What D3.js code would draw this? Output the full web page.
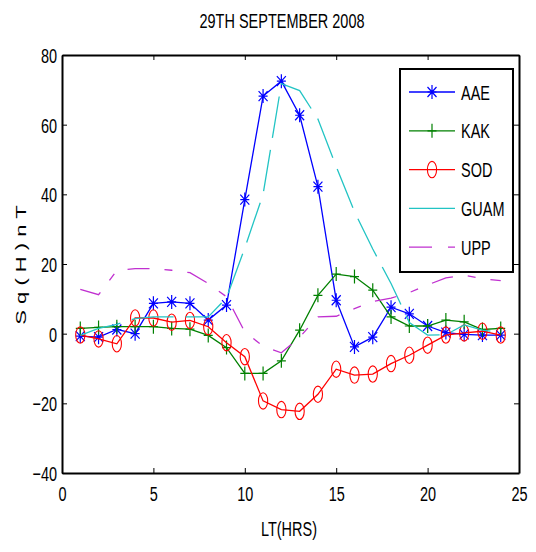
<!DOCTYPE html>
<html>
<head>
<meta charset="utf-8">
<script src="https://cdn.jsdelivr.net/npm/d3@7"></script>
<style>
  html, body { margin: 0; padding: 0; background: #fff; }
  svg { display: block; }
  text { font-family: "Liberation Sans", Arial, sans-serif; fill: #000; }
</style>
</head>
<body>
<svg id="chart" width="536" height="552"></svg>
<script>
// ---- data ----
const hours = [1,2,3,4,5,6,7,8,9,10,11,12,13,14,15,16,17,18,19,20,21,22,23,24];
const AAE  = [-0.7,-1,1.2,0,8.7,9.1,8.7,3.9,8.2,38.5,68.2,72.5,62.7,42.2,9.6,-3.8,-1,7.6,5.7,2.2,0.3,-0.2,-0.4,-0.4];
const KAK  = [1.5,1.8,2,2,2,1.5,1.3,-0.5,-4,-11.4,-11.4,-7.8,1,11,17.1,16.4,12.5,4.8,2.2,2.2,3.9,3.4,1.2,1.5];
const SOD  = [-0.4,-1.5,-2.9,4.5,4.5,3.3,3.8,2,-2.6,-6.6,-19.3,-21.8,-22.3,-17.4,-10.2,-11.9,-11.6,-8.6,-6.2,-3.3,-0.4,0.2,0.7,-0.4];
const GUAM = [-0.5,1.5,2.7,4.3,4.8,4.8,4.8,4.8,10.3,24.6,40,71.8,69.8,61.6,48,35,24.3,14.4,3.2,-0.4,-0.3,2.5,1,0.4];
const UPP  = [12.7,11.2,18.1,18.7,18.7,18.2,17.5,14.4,10.6,0.5,-3.6,-5.5,-1,4.8,5,7.2,9.2,10.2,11.8,14,16,16.8,15.8,15.2];
const seriesNames = ["AAE","KAK","SOD","GUAM","UPP"];
const xTicks = [0,5,10,15,20,25];
const yTicks = [-40,-20,0,20,40,60,80];
const titleText = "29TH SEPTEMBER 2008";
const xLabel = "LT(HRS)";
const yLabel = "S q ( H ) n T";

// ---- styles ----
const seriesValues = {AAE, KAK, SOD, GUAM, UPP};
const style = {
  AAE:  {color:"#0000ff", marker:"star",   dash:null},
  KAK:  {color:"#008000", marker:"plus",   dash:null},
  SOD:  {color:"#ff0000", marker:"circle", dash:null},
  GUAM: {color:"#22c4c4", marker:null,     dash:"42,12", legendDash:null},
  UPP:  {color:"#c030d0", marker:null,     dash:"22,15,8,15", legendDash:"23,16,7,16"}
};
const SX = 0.69; // horizontal squeeze of text / markers
const FS = 21;

const svg = d3.select("#chart");
svg.append("rect").attr("width",536).attr("height",552).attr("fill","#fff");

const x = d3.scaleLinear().domain([0,25]).range([62,519]);
const y = d3.scaleLinear().domain([-40,80]).range([473,55]);

// axes
function styleAxis(g){
  g.select(".domain").attr("stroke","#000").attr("stroke-width",2);
  g.selectAll(".tick line").attr("stroke","#000").attr("stroke-width",1);
  g.selectAll(".tick text").attr("font-size",FS).attr("font-family","'Liberation Sans', Arial, sans-serif")
    .attr("fill","#000");
}
const gx = svg.append("g").attr("transform","translate(0,473)")
  .call(d3.axisBottom(x).tickValues(xTicks).tickSize(-5).tickSizeOuter(0).tickPadding(13));
styleAxis(gx);
gx.selectAll(".tick text").attr("transform",`scale(${SX},1)`);

const gxt = svg.append("g").attr("transform","translate(0,55)")
  .call(d3.axisTop(x).tickValues(xTicks).tickSize(-5).tickSizeOuter(0).tickFormat(""));
styleAxis(gxt);

const gy = svg.append("g").attr("transform","translate(62,0)")
  .call(d3.axisLeft(y).tickValues(yTicks).tickSize(-5).tickSizeOuter(0).tickPadding(7));
styleAxis(gy);
gy.selectAll(".tick text").attr("transform",`scale(${SX},1)`).attr("dy","0.36em");

const gyr = svg.append("g").attr("transform","translate(519,0)")
  .call(d3.axisRight(y).tickValues(yTicks).tickSize(-5).tickSizeOuter(0).tickFormat(""));
styleAxis(gyr);

// markers
function markerPath(type){
  const h = 7, w = 4.5;
  if (type === "star") {
    return `M0,${-h}V${h}M${-w},0H${w}M${-w},${-5}L${w},${5}M${-w},${5}L${w},${-5}`;
  }
  if (type === "plus") {
    return `M0,${-h}V${h}M${-w},0H${w}`;
  }
  return null;
}
function drawMarker(g, type, color, cx, cy){
  if (type === "circle") {
    g.append("ellipse").attr("cx",cx).attr("cy",cy).attr("rx",4.6).attr("ry",8.2)
      .attr("fill","none").attr("stroke",color).attr("stroke-width",1.1);
  } else if (type) {
    g.append("path").attr("d",markerPath(type)).attr("transform",`translate(${cx},${cy})`)
      .attr("fill","none").attr("stroke",color).attr("stroke-width",1.2);
  }
}

const line = d3.line().x((d,i)=>x(hours[i])).y(d=>y(d));
const plot = svg.append("g");
seriesNames.forEach(name=>{
  const s = style[name];
  const vals = seriesValues[name];
  plot.append("path").datum(vals).attr("d",line)
    .attr("fill","none").attr("stroke",s.color).attr("stroke-width",1.3)
    .attr("stroke-dasharray",s.dash);
  if (s.marker) {
    vals.forEach((v,i)=>drawMarker(plot, s.marker, s.color, x(hours[i]), y(v)));
  }
});

// legend
const lg = svg.append("g");
lg.append("rect").attr("x",400).attr("y",69).attr("width",113).attr("height",203)
  .attr("fill","#fff").attr("stroke","#000").attr("stroke-width",2);
seriesNames.forEach((name,i)=>{
  const s = style[name];
  const ly = 92 + i*38.8;
  lg.append("line").attr("x1",409).attr("x2",455).attr("y1",ly).attr("y2",ly)
    .attr("stroke",s.color).attr("stroke-width",1.3)
    .attr("stroke-dasharray", s.legendDash === undefined ? null : s.legendDash);
  if (s.marker) drawMarker(lg, s.marker, s.color, 432, ly);
  lg.append("text").attr("transform",`translate(461,${ly+7.5}) scale(${SX},1)`)
    .attr("font-size",FS).text(name);
});

// title and labels
svg.append("text").attr("transform",`translate(282,28) scale(${SX},1)`)
  .attr("text-anchor","middle").attr("font-size",FS).text(titleText);
svg.append("text").attr("transform",`translate(289,536) scale(${SX},1)`)
  .attr("text-anchor","middle").attr("font-size",FS).text(xLabel);
svg.append("text").attr("transform",`translate(26,265) rotate(-90) scale(1,${SX})`)
  .attr("text-anchor","middle").attr("font-size",22).text(yLabel);
</script>
</body>
</html>
